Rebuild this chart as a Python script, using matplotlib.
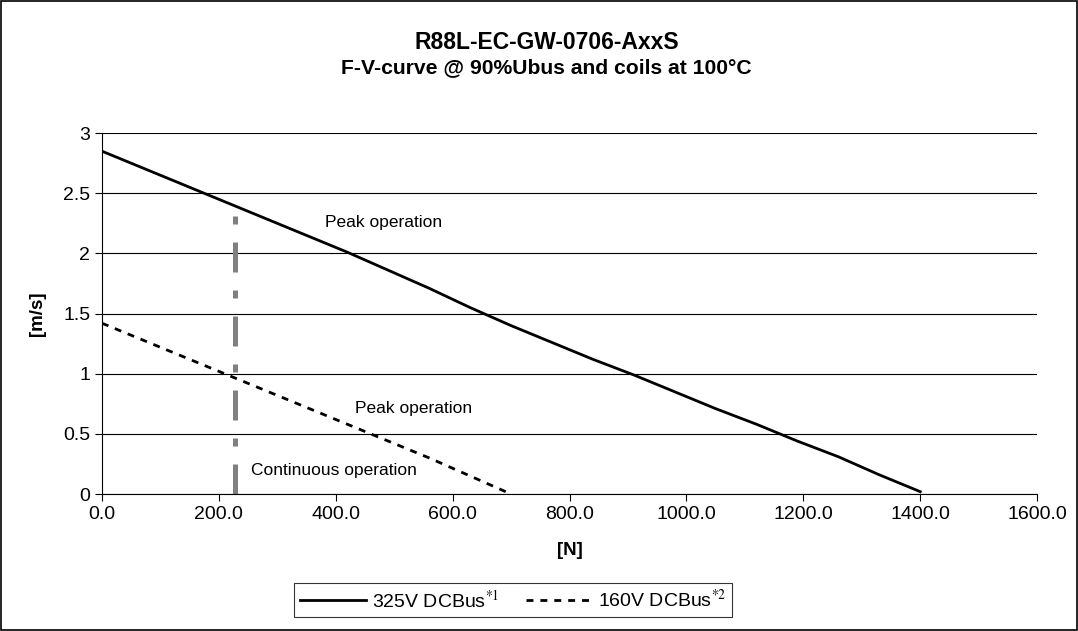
import matplotlib.pyplot as plt
from matplotlib.patches import Rectangle

plt.rcParams['font.family'] = ['Liberation Sans', 'DejaVu Sans']
plt.rcParams['mathtext.fontset'] = 'stix'

# force [N] vs speed [m/s]
force_325 = [0, 140, 280, 420, 490, 560, 630, 700, 770, 840, 910, 980, 1050, 1120, 1190, 1260, 1330, 1400]
speed_325 = [2.85, 2.57, 2.29, 2.01, 1.86, 1.71, 1.55, 1.40, 1.26, 1.12, 0.99, 0.85, 0.71, 0.58, 0.44, 0.31, 0.16, 0.02]

force_160 = [0, 70, 140, 210, 280, 350, 420, 490, 560, 630, 700]
speed_160 = [1.42, 1.28, 1.14, 1.00, 0.86, 0.72, 0.58, 0.44, 0.30, 0.15, 0.0]

cont_force = 228
cont_top = 2.33

x_ticks = [0, 200, 400, 600, 800, 1000, 1200, 1400, 1600]
y_ticks = [0, 0.5, 1, 1.5, 2, 2.5, 3]


def main():
    fig = plt.figure(figsize=(10.78, 6.31), dpi=100)
    ax = fig.add_axes([0.0946, 0.217, 0.8675, 0.572])

    ax.plot(force_325, speed_325, color='black', lw=2.0, label='325V DCBus$^{*1}$')
    ax.plot(force_160, speed_160, color='black', lw=2.0, ls=(0, (2.5, 2.5)),
            label='160V DCBus$^{*2}$')
    ax.plot([cont_force, cont_force], [0, cont_top], color='#808080', lw=3.6,
            ls=(0, (6, 3.6, 1.6, 3.6)))

    ax.text(381, 2.26, 'Peak operation', fontsize=12.5, va='center')
    ax.text(433, 0.71, 'Peak operation', fontsize=12.5, va='center')
    ax.text(255, 0.2, 'Continuous operation', fontsize=12.5, va='center')

    ax.set_xlim(0, 1600)
    ax.set_ylim(0, 3)
    ax.set_xticks(x_ticks)
    ax.set_xticklabels([f'{v:.1f}' for v in x_ticks])
    ax.set_yticks(y_ticks)
    ax.set_yticklabels([f'{v:g}' for v in y_ticks])
    ax.tick_params(labelsize=14, direction='out', length=5, width=0.8)
    ax.grid(axis='y', color='black', lw=0.8)
    ax.spines['top'].set_visible(False)
    ax.spines['right'].set_visible(False)

    ax.set_xlabel('[N]', fontsize=13.5, fontweight='bold', labelpad=14)
    ax.set_ylabel('[m/s]', fontsize=13.5, fontweight='bold', labelpad=12)

    fig.text(0.507, 0.933, 'R88L-EC-GW-0706-AxxS', fontsize=16.5, fontweight='bold',
             ha='center', va='center')
    fig.text(0.507, 0.893, 'F-V-curve @ 90%Ubus and coils at 100°C', fontsize=15.2,
             fontweight='bold', ha='center', va='center')

    leg = fig.legend(loc='center', bbox_to_anchor=(0.476, 0.049), ncol=2,
                     fontsize=14, frameon=True, fancybox=False, handlelength=3.4,
                     handletextpad=0.3, columnspacing=1.4, borderpad=0.3)
    leg.get_frame().set_edgecolor('black')
    leg.get_frame().set_linewidth(0.8)

    fig.patches.append(Rectangle((0.001, 0.001), 0.998, 0.997, transform=fig.transFigure,
                                 fill=False, edgecolor='black', lw=1.2))

    fig.savefig('out.png', dpi=100)


if __name__ == '__main__':
    main()
